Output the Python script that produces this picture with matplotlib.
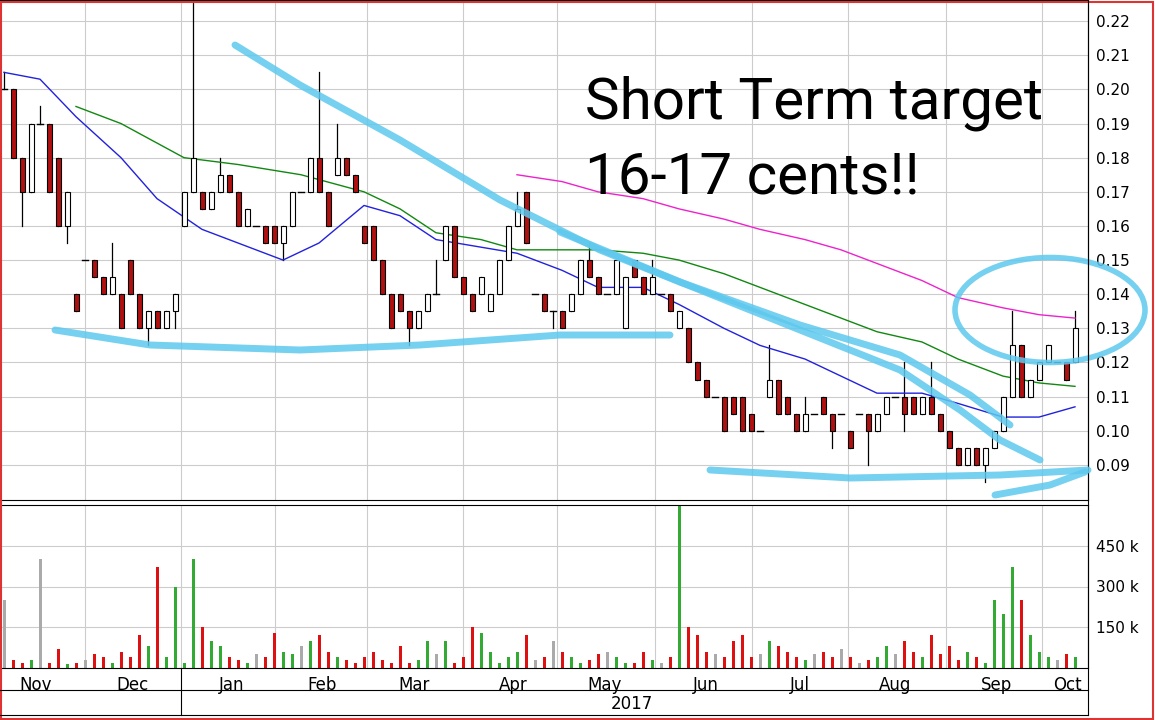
import matplotlib
matplotlib.use("Agg")
import matplotlib.pyplot as plt
import numpy as np
from matplotlib.patches import Ellipse

# ---- data (cents / thousands) ----
opens = [20,20,18,17,19,19,18,16,
         14,15,15,14.5,14,14,15,14,13,13.5,13,13.5,
         16,17,17,16.5,17,17.5,17,16,16,16,
         16,15.5,16,17,17,18,17,17.5,18,17.5,
         16,16,15,14,14,13.5,13,13.5,14,
         15,16,14.5,14,14,13.5,14,15,16,17,
         14,14,13.5,13.5,13.5,14,15,14.5,14,14,13,15,14.5,14,14,14,
         13,13,12,11.5,11,11,11,11,10.5,
         10,11,11.5,11,10.5,10,10.5,11,10.5,10.5,10,10.5,10.5,10,
         10.5,11,11,11,10.5,11,10.5,10,9.5,9,9.5,9,
         9.5,10,11,12.5,11,11.5,12,12,12,12]
closes = [20,18,17,19,19,17,16,17,
          13.5,15,14.5,14,14.5,13,14,13,13.5,13,13.5,14,
          17,18,16.5,17,17.5,17,16,16.5,16,15.5,
          15.5,16,17,17,18,17,16,18,17.5,17,
          15.5,15,14,13,13.5,13,13.5,14,14,
          16,14.5,14,13.5,14.5,14,15,16,16.5,15.5,
          14,13.5,13.5,13,14,15,14.5,14,14,15,14.5,14.5,14,14.5,14,13.5,
          13.5,12,11.5,11,11,10,10.5,10,10,
          10,11.5,10.5,10.5,10,10.5,10.5,10.5,10,10.5,9.5,10.5,10,10.5,
          11,11,10.5,10.5,11,10.5,10,9.5,9,9.5,9,9.5,
          10,11,12.5,11,11.5,12,12.5,12,11.5,13]
upper_spikes = {0: 0.5, 4: 0.5, 12: 1, 21: 5, 24: 0.5, 35: 2.5, 37: 1, 48: 1, 57: 0.5,
                65: 0.5, 72: 0.5, 85: 1, 89: 0.5, 100: 1, 103: 1, 112: 1, 119: 0.5}
lower_spikes = {2: 1, 7: 0.5, 16: 0.5, 19: 0.5, 31: 0.5, 45: 0.5, 61: 0.5,
                92: 0.5, 96: 1, 100: 0.5, 109: 0.5}
volumes = [250,30,20,30,400,20,70,15,
           20,30,50,40,20,60,40,120,80,370,40,300,
           20,400,150,100,80,40,30,20,50,40,
           130,60,50,80,100,120,60,40,30,20,
           40,60,30,20,80,20,30,100,50,
           100,20,40,150,130,60,20,40,60,120,
           30,40,100,60,40,20,30,50,60,40,20,20,60,30,20,40,
           600,150,120,60,50,40,100,120,40,
           50,100,80,60,40,30,50,60,40,70,40,20,30,40,
           80,50,100,60,40,120,50,80,30,60,40,20,
           250,200,370,250,120,60,40,30,50,40]
ma_short_idx = [0,4,8,13,17,22,26,31,35,40,44,48,57,62,66,71,75,80,84,89,93,97,102,106,111,115,119]
ma_short = [0.205,0.203,0.192,0.180,0.168,0.159,0.155,0.150,0.155,0.166,0.163,0.156,0.152,0.147,0.142,0.142,0.137,0.130,0.125,0.121,0.116,0.111,0.111,0.108,0.104,0.104,0.107]
ma_mid_idx = [8,13,20,26,33,40,44,48,53,57,66,71,75,80,84,89,93,97,102,106,111,115,119]
ma_mid = [0.195,0.190,0.180,0.178,0.175,0.170,0.165,0.158,0.156,0.153,0.153,0.152,0.150,0.146,0.142,0.137,0.133,0.129,0.126,0.121,0.116,0.114,0.113]
ma_long_idx = [57,62,66,71,75,80,84,89,93,97,102,106,111,115,119]
ma_long = [0.175,0.173,0.170,0.168,0.165,0.162,0.159,0.156,0.153,0.149,0.144,0.139,0.136,0.134,0.133]
month_labels = ["Nov","Dec","Jan","Feb","Mar","Apr","May","Jun","Jul","Aug","Sep","Oct"]
month_pos = [36,133,232,322,414,513,605,706,800,895,996,1067]
month_bounds = [85,181,275,367,463,557,655,752,848,946,1042]
price_ticks = [0.09,0.10,0.11,0.12,0.13,0.14,0.15,0.16,0.17,0.18,0.19,0.20,0.21,0.22]
vol_ticks = [150,300,450]

N = len(opens)
xpos = lambda idx: 4 + 9*np.asarray(idx)
x = xpos(np.arange(N))
o = np.array(opens)/100; c = np.array(closes)/100
hi = np.maximum(o, c) + np.array([upper_spikes.get(i, 0) for i in range(N)])/100
lo = np.minimum(o, c) - np.array([lower_spikes.get(i, 0) for i in range(N)])/100

W, H = 1155, 720
fig = plt.figure(figsize=(11.55, 7.2), dpi=100)
R = 1088/W
axp = fig.add_axes([0, 1-500/H, R, 500/H])
axv = fig.add_axes([0, 1-668/H, R, 163/H])

for ax in (axp, axv):
    ax.set_xlim(0, 1088)
    for b in month_bounds:
        ax.axvline(b, color="#cccccc", lw=0.8, zorder=0)
    ax.yaxis.tick_right()
    ax.tick_params(axis="y", length=0, labelsize=11, pad=6)

for i in range(N):
    axp.plot([x[i], x[i]], [lo[i], hi[i]], color="black", lw=0.9, zorder=2)
    if abs(c[i]-o[i]) < 1e-9:
        axp.plot([x[i]-3, x[i]+3], [c[i], c[i]], color="black", lw=1, zorder=3)
    else:
        col = "white" if c[i] > o[i] else "#b01010"
        axp.bar(x[i], c[i]-o[i], bottom=o[i], width=5, color=col, edgecolor="black", lw=0.8, zorder=3)

axp.plot(xpos(ma_short_idx), ma_short, color="#2222dd", lw=1)
axp.plot(xpos(ma_mid_idx), ma_mid, color="#118811", lw=1)
axp.plot(xpos(ma_long_idx), ma_long, color="#ee22cc", lw=1)

axp.set_ylim(0.0797, 0.2262)
axp.set_yticks(price_ticks)
axp.set_yticklabels([f"{t:.2f}" for t in price_ticks])
axp.grid(axis="y", color="#cccccc", lw=0.8)
axp.set_axisbelow(True)
axp.set_xticks([])

vcols = ["#33aa33" if cc > oo else ("#dd1111" if cc < oo else "#aaaaaa") for oo, cc in zip(o, c)]
axv.bar(x, volumes, width=3, color=vcols)
axv.set_ylim(0, 600)
axv.set_yticks(vol_ticks)
axv.set_yticklabels([f"{v} k" for v in vol_ticks])
axv.grid(axis="y", color="#cccccc", lw=0.8)
axv.set_axisbelow(True)
axv.set_xticks(month_pos)
axv.set_xticklabels(month_labels, fontsize=12)
axv.tick_params(axis="x", length=0, pad=6)

def P(px, py):
    return px/W, 1-py/H

fig.add_artist(plt.Line2D([0, R], [1-690/H]*2, color="black", lw=0.8))
fig.add_artist(plt.Line2D([181/W]*2, [1-668/H, 1-715/H], color="black", lw=0.8))
fig.add_artist(plt.Line2D([0, R], [1-715/H]*2, color="black", lw=0.8))
fig.add_artist(plt.Line2D([R, R], [1, 1-715/H], color="black", lw=0.8))
fig.text(*P(632, 704), "2017", ha="center", va="center", fontsize=12)
fig.add_artist(plt.Rectangle((0.001, 0.002), 0.997, 0.995, fill=False, ec="#dd3333", lw=1.5, transform=fig.transFigure))

fig.text(*P(585, 103), "Short Term target", fontsize=42, va="center", family="Roboto")
fig.text(*P(585, 178), "16-17 cents!!", fontsize=42, va="center", family="Roboto")

blue = "#5ec8ee"
strokes = [
    [(235,45),(300,85),(400,140),(500,200),(600,250),(700,290),(800,330),(900,370),(960,410),(1000,440),(1040,460)],
    [(560,232),(680,282),(800,325),(900,355),(970,395),(1010,425)],
    [(55,330),(150,345),(300,350),(420,345),(560,335),(670,335)],
    [(710,470),(850,478),(1000,475),(1088,470)],
    [(995,495),(1050,485),(1085,472)],
]
for st in strokes:
    xs, ys = zip(*[P(a, b) for a, b in st])
    fig.add_artist(plt.Line2D(xs, ys, color=blue, lw=5, alpha=0.85, solid_capstyle="round"))
fig.add_artist(Ellipse(P(1050, 310), 190/W, 105/H, fill=False, ec=blue, lw=4, alpha=0.85, transform=fig.transFigure))

fig.savefig("out.png", dpi=100)
